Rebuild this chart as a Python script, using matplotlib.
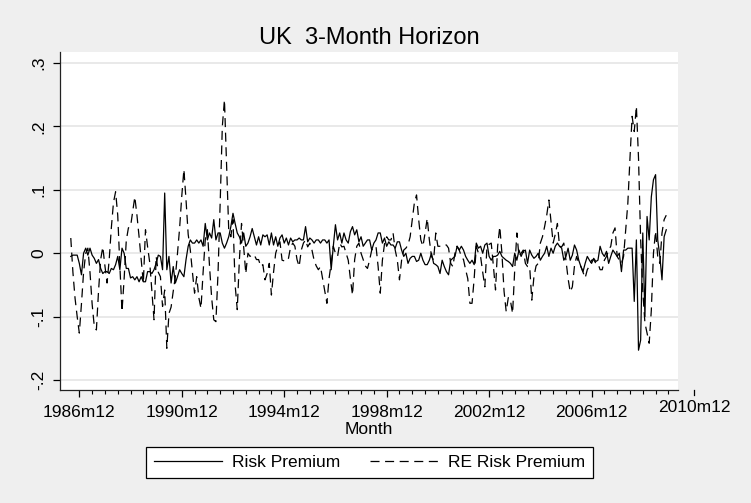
import numpy as np
import matplotlib
matplotlib.use("Agg")
import matplotlib.pyplot as plt
from matplotlib.lines import Line2D
import matplotlib.transforms as mtransforms

plt.rcParams['font.family'] = ['Liberation Sans', 'DejaVu Sans']
plt.rcParams['lines.scale_dashes'] = False

# ---- data: monthly, starting 1986m8 (month index relative to 1986m12 = 0)
start_month_index = -4
risk_premium = [
    -0.005, -0.003, -0.003, -0.003, -0.016, -0.034, 0.000, 0.008, -0.003, 0.008,
    -0.003, -0.008, -0.016, -0.010, -0.024, -0.032, -0.029, -0.029, -0.032, -0.024,
    -0.026, -0.018, -0.005, -0.026, 0.008, 0.000, -0.024, -0.024, -0.039, -0.037,
    -0.042, -0.037, -0.045, -0.037, -0.045, -0.045, -0.029, -0.029, -0.032, -0.026,
    -0.016, -0.003, -0.005, -0.026, 0.095, -0.026, -0.005, -0.047, -0.021, -0.047,
    -0.037, -0.026, -0.032, -0.037, -0.010, 0.011, 0.021, 0.016, 0.016, 0.021,
    0.016, 0.021, 0.011, 0.047, 0.021, 0.032, 0.024, 0.053, 0.021, 0.032,
    0.032, 0.016, 0.008, 0.016, 0.026, 0.042, 0.063, 0.047, 0.032, 0.026,
    0.016, 0.032, 0.011, 0.016, 0.026, 0.039, 0.026, 0.013, 0.026, 0.013,
    0.029, 0.026, 0.029, 0.013, 0.032, 0.013, 0.026, 0.011, 0.024, 0.029,
    0.016, 0.024, 0.013, 0.024, 0.018, 0.021, 0.021, 0.024, 0.021, 0.021,
    0.042, 0.018, 0.024, 0.021, 0.016, 0.021, 0.021, 0.016, 0.021, 0.021,
    0.016, 0.021, -0.026, 0.011, 0.045, 0.021, 0.032, 0.016, 0.032, 0.021,
    0.016, 0.034, 0.042, 0.029, 0.037, 0.018, 0.026, 0.011, 0.016, 0.021,
    0.021, 0.005, 0.016, 0.021, 0.032, 0.032, 0.016, 0.024, 0.011, 0.018,
    0.013, 0.013, 0.008, 0.018, 0.018, 0.005, -0.005, 0.000, -0.016, -0.008,
    -0.005, -0.005, -0.013, -0.011, 0.000, -0.011, -0.018, -0.018, -0.011, 0.000,
    -0.016, -0.018, -0.021, -0.032, -0.011, -0.021, -0.029, -0.034, -0.011, -0.008,
    -0.005, 0.011, 0.005, 0.011, 0.005, -0.005, -0.011, -0.016, -0.011, -0.018,
    0.016, 0.008, 0.011, 0.000, 0.013, 0.016, -0.005, -0.011, -0.005, -0.005,
    -0.003, 0.003, -0.005, -0.008, -0.011, -0.013, -0.016, -0.021, 0.000, -0.011,
    0.005, -0.005, 0.003, 0.005, -0.016, 0.005, -0.003, -0.008, -0.005, 0.000,
    -0.011, -0.005, 0.000, 0.011, -0.005, 0.008, 0.000, 0.011, 0.016, 0.011,
    0.008, -0.011, -0.005, 0.008, -0.011, -0.003, 0.013, 0.005, -0.011, -0.021,
    -0.029, -0.016, -0.005, -0.011, -0.016, -0.008, -0.013, -0.011, 0.011, 0.000,
    -0.005, 0.003, -0.016, -0.005, 0.005, 0.000, -0.005, 0.000, -0.029, 0.005,
    0.005, 0.008, 0.008, 0.008, -0.076, 0.021, -0.153, -0.137, 0.032, -0.100,
    0.058, 0.021, 0.089, 0.116, 0.124, 0.021, -0.005, -0.042, 0.026, 0.037,
]
re_risk_premium = [
    0.024, -0.030, -0.071, -0.100, -0.126, -0.080, -0.030, 0.000, 0.008, -0.030,
    -0.080, -0.115, -0.121, -0.060, -0.010, 0.010, -0.020, -0.047, -0.010, 0.040,
    0.080, 0.097, 0.060, -0.020, -0.092, -0.040, 0.020, 0.040, 0.042, 0.065,
    0.089, 0.060, 0.026, -0.010, -0.047, 0.037, 0.010, -0.015, -0.060, -0.105,
    -0.005, -0.030, -0.037, -0.084, -0.058, -0.150, -0.095, -0.085, -0.060, -0.037,
    0.000, 0.040, 0.090, 0.132, 0.084, 0.030, 0.005, -0.030, -0.063, -0.037,
    -0.070, -0.087, -0.030, 0.021, 0.037, -0.020, -0.070, -0.105, -0.108, -0.030,
    0.080, 0.200, 0.242, 0.140, 0.037, 0.026, 0.053, -0.050, -0.089, -0.010,
    0.047, 0.010, -0.032, 0.000, -0.005, -0.002, -0.003, -0.010, -0.010, -0.021,
    -0.018, -0.042, -0.032, -0.016, -0.066, -0.030, 0.000, 0.011, 0.018, -0.011,
    -0.012, -0.013, -0.008, 0.010, 0.016, 0.011, -0.010, -0.021, 0.005, 0.016,
    0.021, 0.010, 0.016, 0.005, -0.011, -0.020, -0.026, -0.021, -0.040, -0.060,
    -0.079, -0.040, -0.016, 0.011, 0.000, -0.005, 0.016, 0.010, 0.011, 0.000,
    -0.011, -0.040, -0.066, -0.010, 0.011, 0.016, 0.000, -0.010, -0.020, -0.024,
    -0.011, 0.005, 0.010, 0.011, -0.021, -0.063, -0.011, 0.015, 0.026, 0.021,
    0.021, 0.032, 0.005, -0.011, -0.042, -0.011, 0.005, 0.008, 0.013, 0.026,
    0.053, 0.080, 0.092, 0.053, 0.021, 0.011, 0.032, 0.055, 0.021, -0.005,
    -0.011, 0.032, 0.011, 0.011, 0.011, 0.013, 0.013, 0.008, -0.016, -0.021,
    0.000, 0.011, 0.005, -0.005, -0.010, -0.026, -0.040, -0.079, -0.079, -0.040,
    0.011, 0.000, -0.005, -0.030, -0.053, 0.011, 0.014, 0.016, -0.020, -0.058,
    0.011, 0.042, 0.000, -0.060, -0.092, -0.070, -0.075, -0.095, -0.026, 0.032,
    -0.005, 0.000, 0.005, -0.016, -0.021, -0.021, -0.074, -0.037, -0.020, -0.016,
    0.016, 0.026, 0.042, 0.060, 0.084, 0.050, 0.016, 0.030, 0.047, 0.011,
    0.010, 0.016, -0.011, -0.040, -0.061, -0.053, -0.020, -0.005, -0.015, -0.021,
    -0.030, -0.039, -0.026, -0.020, -0.011, -0.010, -0.016, -0.016, -0.026, -0.026,
    -0.011, -0.005, 0.005, 0.011, 0.032, 0.040, -0.005, -0.011, -0.016, -0.005,
    0.037, 0.079, 0.150, 0.216, 0.192, 0.232, 0.150, 0.021, -0.060, -0.110,
    -0.126, -0.142, -0.090, 0.000, 0.035, -0.005, -0.016, 0.032, 0.053, 0.060,
]
x_tick_months = [0, 48, 96, 144, 192, 240]
x_tick_labels = ["1986m12", "1990m12", "1994m12", "1998m12", "2002m12", "2006m12"]
extra_tick_month = 288
extra_tick_label = "2010m12"
y_ticks = [-0.2, -0.1, 0.0, 0.1, 0.2, 0.3]
y_tick_labels = ["-.2", "-.1", "0", ".1", ".2", ".3"]

months = np.arange(start_month_index, start_month_index + len(risk_premium))

W, H = 751, 503
FS = 12.5
DASH = (6.5, 4.0)
fig = plt.figure(figsize=(W / 100, H / 100), dpi=100, facecolor='#EFEFEF')
ax = fig.add_axes([60 / W, (H - 390) / H, 618 / W, (390 - 51.7) / H])
ax.set_facecolor('white')

ax.plot(months, risk_premium, color='black', lw=0.9, label='Risk Premium')
ax.plot(months, re_risk_premium, color='black', lw=0.9, dashes=DASH,
        label='RE Risk Premium')

ax.set_xlim(-9.05, 280.5)
ax.set_ylim(-0.2158, 0.318)

ax.set_yticks(y_ticks)
ax.set_yticklabels(y_tick_labels, rotation=90, va='center', fontsize=FS)
ax.set_xticks(x_tick_months)
ax.set_xticklabels(x_tick_labels, fontsize=FS)
ax.set_xticks(np.arange(6, 282, 6), minor=True)
ax.tick_params(axis='y', length=5, width=0.9, pad=5)
ax.tick_params(axis='x', which='major', length=5, width=0.9, pad=6)
ax.tick_params(axis='x', which='minor', length=3, width=0.8)
ax.grid(axis='y', color='#E3E3E3', lw=1.1)
ax.set_axisbelow(True)
for s in ['top', 'right']:
    ax.spines[s].set_visible(False)
for s in ['left', 'bottom']:
    ax.spines[s].set_linewidth(0.9)
    ax.spines[s].set_color('#222222')

# tick beyond the plot region (as in the original)
trans = mtransforms.blended_transform_factory(ax.transData, ax.transAxes)
ax.add_line(Line2D([extra_tick_month, extra_tick_month], [0, -5 / 338.3],
                   transform=trans, color='black', lw=0.9, clip_on=False))
ax.text(extra_tick_month, -17.5 / 338.3, extra_tick_label, transform=trans,
        ha='center', va='center', fontsize=FS, clip_on=False)

fig.text(369 / W, 1 - 44 / H, 'UK  3-Month Horizon', ha='center',
         va='baseline', fontsize=17)
fig.text(369 / W, 1 - 429 / H, 'Month', ha='center', va='center', fontsize=FS)

handles = [Line2D([], [], color='black', lw=0.9),
           Line2D([], [], color='black', lw=0.9, dashes=DASH)]
leg = fig.legend(handles, ['Risk Premium', 'RE Risk Premium'], loc='center',
                 bbox_to_anchor=(369.5 / W, 1 - 462.5 / H), ncol=2,
                 frameon=True, fancybox=False, edgecolor='black',
                 facecolor='white', framealpha=1, handlelength=3.9,
                 handletextpad=0.6, columnspacing=1.7, fontsize=FS,
                 borderpad=0.45, borderaxespad=0)
leg.get_frame().set_linewidth(0.9)

fig.savefig('out.png', dpi=100, facecolor=fig.get_facecolor())
